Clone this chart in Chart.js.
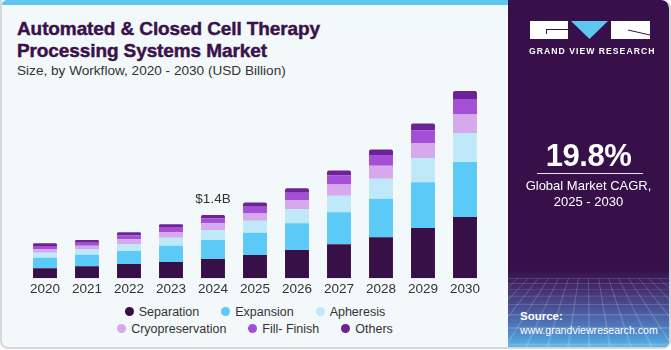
<!DOCTYPE html>
<html>
<head>
<meta charset="utf-8">
<script src="https://cdn.jsdelivr.net/npm/chart.js@4/dist/chart.umd.min.js"></script>
<style>
  html, body { margin:0; padding:0; background:#ffffff; }
  body { width:671px; height:350px; position:relative; overflow:hidden; font-family:"Liberation Sans", Arial, sans-serif; }
  #card { position:absolute; left:0; top:0; width:667px; height:347px; border:2px solid #d4d7db; border-top:none; border-radius:0 8px 8px 8px; overflow:hidden; background:#f3f8fb; }
  #stripe { position:absolute; left:0; top:0; width:506px; height:5px; background:#5ec6ef; border-top-left-radius:6px; }
  #title { position:absolute; left:15px; top:18px; color:#3a1149; font-weight:bold; font-size:19px; line-height:22px; letter-spacing:-0.1px; -webkit-text-stroke:0.45px #3a1149; }
  #subtitle { position:absolute; left:15px; top:63px; color:#333; font-size:13.6px; }
  #chartbox { position:absolute; left:0; top:80px; width:506px; height:220px; }
  #legend { position:absolute; left:0; top:303px; width:506px; font-size:12.5px; color:#333; }
  .row { display:flex; justify-content:center; height:17px; align-items:center; }
  .item { display:flex; align-items:center; margin:0 11px; }
  .dot { width:9px; height:9px; border-radius:50%; margin-right:5px; }
  #side { position:absolute; left:506px; top:0; width:161px; height:347px; background:#37104a; overflow:hidden; border-top-right-radius:8px; }
  #fade { position:absolute; left:0; top:270px; width:161px; height:77px; background:linear-gradient(to bottom, rgba(55,16,74,1) 0%, #44306f 25%, #4a5a9e 55%, #4f86c8 80%, #56b3e6 100%); }
  #grid { position:absolute; left:-80px; top:278px; width:320px; height:140px; transform-origin:50% 0; transform:perspective(90px) rotateX(55deg);
     background-image:repeating-linear-gradient(to right, rgba(255,255,255,0.22) 0 1px, transparent 1px 10px), repeating-linear-gradient(to bottom, rgba(255,255,255,0.22) 0 1px, transparent 1px 8px); opacity:0.7; }
  .blk { position:absolute; background:#fff; }
  #logo-text { position:absolute; left:21px; top:46px; width:122px; text-align:center; color:#fff; font-weight:bold; font-size:8.6px; letter-spacing:1.05px; white-space:nowrap; }
  #cagr { position:absolute; left:0; top:138px; width:161px; text-align:center; color:#fff; font-weight:bold; font-size:31px; letter-spacing:-0.5px; }
  #hr { position:absolute; left:29px; top:173px; width:106px; height:1px; background:#e8e0ee; }
  #cagrtxt { position:absolute; left:0; top:178px; width:161px; text-align:center; color:#fff; font-size:13px; line-height:15.5px; }
  #src { position:absolute; left:12px; top:309px; color:#fff; font-size:10.6px; line-height:14px; white-space:nowrap; }
  #src b { font-size:11.5px; }
</style>
</head>
<body>
<div id="card">
  <div id="stripe"></div>
  <div id="title">Automated &amp; Closed Cell Therapy<br>Processing Systems Market</div>
  <div id="subtitle">Size, by Workflow, 2020 - 2030 (USD Billion)</div>
  <div id="chartbox"><canvas id="c" width="506" height="220"></canvas></div>
  <div id="legend"></div>
  <div id="side">
    <div id="fade"></div>
    <div id="grid"></div>
    <div class="blk" style="left:22px;top:21px;width:38px;height:18px;"></div>
    <div style="position:absolute;left:38px;top:29px;width:22px;height:1px;background:#37104a;"></div>
    <div style="position:absolute;left:38px;top:29px;width:1px;height:5px;background:#37104a;"></div>
    <svg style="position:absolute;left:63px;top:21px;" width="37" height="18"><polygon points="0,0 37,0 18.5,18" fill="#5ec6ef"/></svg>
    <div class="blk" style="left:103px;top:21px;width:39px;height:18px;"></div>
    <svg style="position:absolute;left:103px;top:21px;" width="39" height="18"><line x1="17" y1="9" x2="39" y2="14" stroke="#37104a" stroke-width="1"/></svg>
    <div id="logo-text">GRAND VIEW RESEARCH</div>
    <div id="cagr">19.8%</div>
    <div id="hr"></div>
    <div id="cagrtxt">Global Market CAGR,<br>2025 - 2030</div>
    <div id="src"><b>Source:</b><br>www.grandviewresearch.com</div>
  </div>
</div>
<script>
const years = ["2020","2021","2022","2023","2024","2025","2026","2027","2028","2029","2030"];
const seriesNames = ["Separation","Expansion","Apheresis","Cryopreservation","Fill- Finish","Others"];
const seriesColors = ["#381048","#5ccaf6","#bfe9f9","#d6a9ec","#a54fd6","#6c2397"];
const separation      = [0.221,0.265,0.316,0.361,0.427,0.515,0.626,0.752,0.907,1.113,1.356];
const expansion       = [0.235,0.257,0.288,0.361,0.420,0.493,0.591,0.708,0.854,1.011,1.217];
const apheresis       = [0.111,0.126,0.148,0.177,0.221,0.265,0.310,0.367,0.442,0.531,0.642];
const cryopreservation= [0.075,0.073,0.111,0.126,0.148,0.164,0.206,0.252,0.288,0.338,0.414];
const fillFinish      = [0.073,0.066,0.088,0.111,0.111,0.146,0.162,0.199,0.237,0.281,0.338];
const others          = [0.060,0.060,0.066,0.060,0.073,0.097,0.097,0.111,0.126,0.155,0.177];
const annotations = [{ year:"2024", text:"$1.4B" }];

const seriesData = [separation, expansion, apheresis, cryopreservation, fillFinish, others];

const datasets = seriesNames.map((n,i)=>({
  label:n,
  data:seriesData[i],
  backgroundColor:seriesColors[i],
  borderWidth:0,
  borderSkipped:false,
  borderRadius: i===seriesNames.length-1 ? {topLeft:2, topRight:2, bottomLeft:0, bottomRight:0} : 0,
  barPercentage:0.57,
  categoryPercentage:1.0
}));

const labelPlugin = {
  id:'totals',
  afterDatasetsDraw(chart){
    const ctx = chart.ctx;
    const xs = chart.scales.x, ys = chart.scales.y;
    annotations.forEach(a=>{
      const idx = years.indexOf(a.year);
      let total = 0; seriesData.forEach(s=> total += s[idx]);
      ctx.save();
      ctx.font = '13.5px "Liberation Sans", Arial, sans-serif';
      ctx.fillStyle = '#333';
      ctx.textAlign = 'center';
      ctx.textBaseline = 'middle';
      ctx.fillText(a.text, xs.getPixelForValue(idx), ys.getPixelForValue(total) - 16);
      ctx.restore();
    });
  }
};

new Chart(document.getElementById('c'), {
  type:'bar',
  data:{ labels:years, datasets },
  options:{
    responsive:false,
    animation:false,
    layout:{ padding:{ left:22, right:22, top:0, bottom:0 } },
    plugins:{ legend:{display:false}, tooltip:{enabled:false} },
    scales:{
      x:{ stacked:true, grid:{display:false, drawTicks:false}, border:{display:false},
          ticks:{ color:'#333', font:{ size:13.5, family:'"Liberation Sans", Arial, sans-serif' }, padding:3 },
          afterFit(s){ s.height = 21.7; } },
      y:{ stacked:true, display:false, min:0, max:4.39 }
    }
  },
  plugins:[labelPlugin]
});

// legend (HTML) built from series arrays
const leg = document.getElementById('legend');
[[0,1,2],[3,4,5]].forEach(r=>{
  const row = document.createElement('div'); row.className='row';
  r.forEach(i=>{
    const it = document.createElement('div'); it.className='item';
    it.innerHTML = '<span class="dot" style="background:'+seriesColors[i]+'"></span><span>'+seriesNames[i]+'</span>';
    row.appendChild(it);
  });
  leg.appendChild(row);
});
</script>
</body>
</html>
